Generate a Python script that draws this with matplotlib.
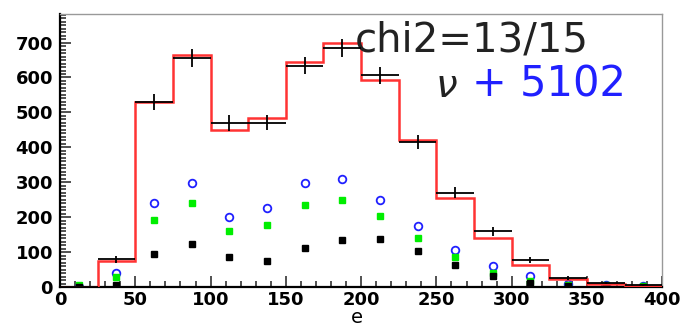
import numpy as np
import matplotlib
matplotlib.use("Agg")
import matplotlib.pyplot as plt
from matplotlib.ticker import MultipleLocator

# binning: 16 bins of width 25 from 0 to 400
edges = [0, 25, 50, 75, 100, 125, 150, 175, 200, 225, 250, 275, 300, 325, 350, 375, 400]
centers = [12.5, 37.5, 62.5, 87.5, 112.5, 137.5, 162.5, 187.5, 212.5, 237.5,
           262.5, 287.5, 312.5, 337.5, 362.5, 387.5]

# measured counts and errors
data = [0, 79, 531, 655, 470, 471, 634, 684, 606, 416, 270, 160, 77, 26, 12, 5]
data_err = [0, 9, 23, 26, 22, 22, 25, 26, 25, 20, 16, 13, 9, 5, 3, 2]

# fitted total
fit = [0, 74, 530, 665, 450, 483, 643, 698, 594, 421, 254, 140, 62, 24, 8, 4]

# components
comp_blue = [0, 41, 242, 299, 201, 225, 297, 310, 249, 176, 105, 61, 31, 8, 5, 3]
comp_green = [5, 28, 192, 240, 161, 178, 235, 249, 203, 139, 87, 40, 17, 5, 5, 3]
comp_black = [0, 6, 95, 122, 87, 75, 111, 136, 137, 104, 63, 32, 12, 3, 2, 1]

fig = plt.figure(figsize=(6.82, 3.32), dpi=100)
ax = fig.add_axes([0.088, 0.1355, 0.883, 0.8225])

ax.stairs(fit, edges, color="#ff3333", lw=1.8, zorder=3)
ax.errorbar(centers, data, xerr=12.5, yerr=data_err, fmt="none",
            ecolor="black", elinewidth=1.3, capsize=0, zorder=4)

ax.plot(centers, comp_blue, "o", ms=5.5, mfc="none", mec="#2020ff", mew=1.3, zorder=2)
ax.plot(centers, comp_green, "s", ms=5, color="#00ee00", zorder=2)
ax.plot(centers, comp_black, "s", ms=5, color="black", zorder=2)

ax.set_xlim(0, 400)
ax.set_ylim(0, 782)

ax.xaxis.set_major_locator(MultipleLocator(50))
ax.xaxis.set_minor_locator(MultipleLocator(10))
ax.yaxis.set_major_locator(MultipleLocator(100))
ax.yaxis.set_minor_locator(MultipleLocator(10))
ax.tick_params(which="both", direction="in", top=False, right=False,
               labelsize=13, width=1.2, color="#333333")
ax.tick_params(which="major", length=8)
ax.tick_params(which="minor", length=4)
ax.tick_params(axis="y", pad=5)
ax.tick_params(axis="x", pad=3)
for lab in ax.get_xticklabels() + ax.get_yticklabels():
    lab.set_fontweight("bold")

for side in ["left", "bottom"]:
    ax.spines[side].set_linewidth(1.6)
    ax.spines[side].set_color("black")
for side in ["top", "right"]:
    ax.spines[side].set_linewidth(1.0)
    ax.spines[side].set_color("#999999")

ax.set_xlabel("e", fontsize=14)
ax.xaxis.set_label_coords(0.493, -0.076)

ax.text(0.49, 0.861, "chi2=13/15", transform=ax.transAxes, fontsize=29,
        color="#222222", ha="left", va="baseline")
ax.text(0.66, 0.696, r"$\nu$", transform=ax.transAxes, fontsize=28,
        color="#222222", ha="right", va="baseline")
ax.text(0.94, 0.696, "+ 5102", transform=ax.transAxes, fontsize=30,
        color="#2020ff", ha="right", va="baseline")

fig.savefig("out.png", dpi=100)
